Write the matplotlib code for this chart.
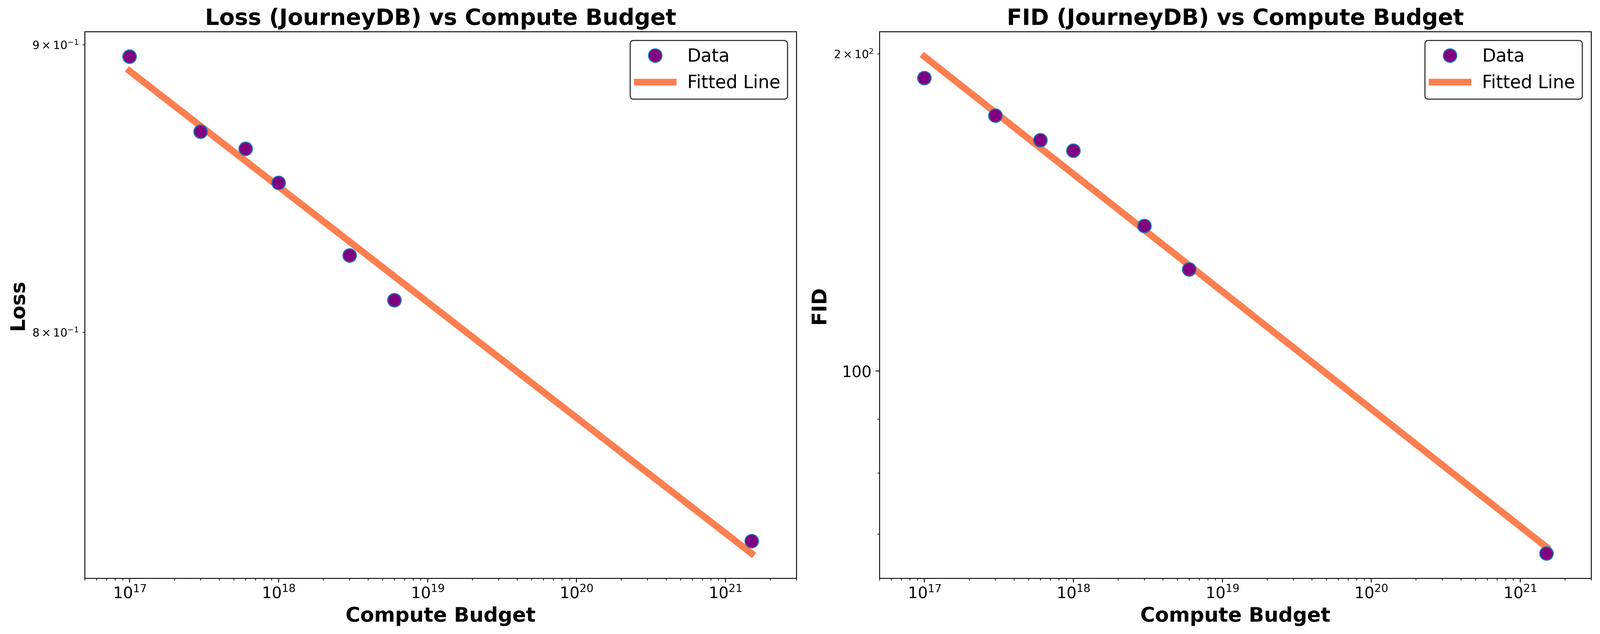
import numpy as np
import matplotlib
matplotlib.use("Agg")
import matplotlib.pyplot as plt
from matplotlib.ticker import ScalarFormatter

# Data
compute_budget = [1e17, 3e17, 6e17, 1e18, 3e18, 6e18, 1.5e21]
loss_values = [0.8957, 0.8686, 0.8625, 0.8506, 0.8256, 0.8106, 0.7345]
fid_values = [189.7, 174.8, 165.6, 161.9, 137.3, 124.9, 67.1]

panels = [
    ("Loss", loss_values, "Loss (JourneyDB) vs Compute Budget"),
    ("FID", fid_values, "FID (JourneyDB) vs Compute Budget"),
]

fig = plt.figure(figsize=(5969 / 300, 2366 / 300), dpi=300)
lefts = [316 / 5969, 3281 / 5969]
width = (2971 - 316) / 5969
bottom = 1 - 2158 / 2366
height = (2158 - 118) / 2366

x = np.array(compute_budget)
for i, (ylabel, vals, title) in enumerate(panels):
    ax = fig.add_axes([lefts[i], bottom, width, height])
    y = np.array(vals)
    ax.plot(x, y, 'o', markerfacecolor='purple', markersize=12, label='Data',
            zorder=3)
    # power-law fit in log-log space
    coef = np.polyfit(np.log10(x), np.log10(y), 1)
    xf = np.logspace(np.log10(x.min()), np.log10(x.max()), 100)
    yf = 10 ** np.polyval(coef, np.log10(xf))
    ax.plot(xf, yf, color='coral', linewidth=6, label='Fitted Line', zorder=2)
    ax.set_xscale('log')
    ax.set_yscale('log')
    ax.set_xlim(x.min() / 2, x.max() * 2)
    ax.yaxis.set_major_formatter(ScalarFormatter())
    ax.set_title(title, fontsize=20, fontweight='bold')
    ax.set_xlabel('Compute Budget', fontsize=18, fontweight='bold')
    ax.set_ylabel(ylabel, fontsize=18, fontweight='bold')
    ax.tick_params(axis='both', which='major', labelsize=14)
    ax.legend(loc='upper right', fontsize=16, edgecolor='black')

fig.savefig('out.png', dpi=300)
